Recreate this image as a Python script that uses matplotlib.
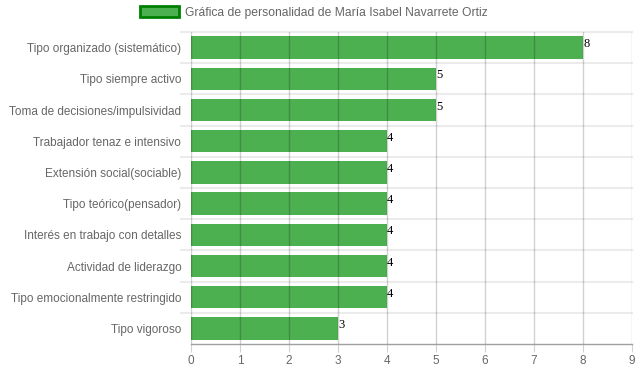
import numpy as np
import matplotlib.pyplot as plt
from matplotlib.patches import Patch

categories = ['Tipo organizado (sistemático)', 'Tipo siempre activo',
              'Toma de decisiones/impulsividad', 'Trabajador tenaz e intensivo',
              'Extensión social(sociable)', 'Tipo teórico(pensador)',
              'Interés en trabajo con detalles', 'Actividad de liderazgo',
              'Tipo emocionalmente restringido', 'Tipo vigoroso']
values = [8, 5, 5, 4, 4, 4, 4, 4, 4, 3]
legend_label = 'Gráfica de personalidad de María Isabel Navarrete Ortiz'

bar_color = '#4caf50'
text_color = '#666666'

plt.rcParams['font.family'] = ['Liberation Sans', 'DejaVu Sans']

fig = plt.figure(figsize=(6.39, 3.72), dpi=100)
ax = fig.add_axes([191/639, 1-344/372, 441/639, 312/372])

n = len(categories)
y = np.arange(n)
ax.barh(y, values, height=0.72, color=bar_color, zorder=2)

ax.set_xlim(0, 9)
ax.set_ylim(n - 0.5, -0.5)

# vertical grid, drawn over bars
for xv in range(0, 10):
    ax.axvline(xv, color=(0, 0, 0, 0.18), lw=1, zorder=3)
# horizontal grid at category boundaries
for yb in np.arange(-0.5, n - 0.5, 1.0):
    ax.axhline(yb, color='#ebebeb', lw=1.5, zorder=1, clip_on=False)
    ax.plot([-0.2, 0], [yb, yb], color='#ebebeb', lw=1.5, clip_on=False,
            zorder=1)

for s in ['top', 'right', 'left']:
    ax.spines[s].set_visible(False)
ax.spines['bottom'].set_color('#a0a0a0')
ax.spines['bottom'].set_linewidth(1)

ax.set_yticks(y)
ax.set_yticklabels(categories, fontsize=8.5, color=text_color)
ax.tick_params(axis='y', length=0, pad=7)
ax.set_xticks(range(0, 10))
ax.tick_params(axis='x', length=6, color=(0, 0, 0, 0.18), labelsize=8.5,
               labelcolor=text_color, pad=2)

for yi, v in zip(y, values):
    ax.text(v, yi - 0.3, str(v), fontsize=9, family='Liberation Serif',
            color='black', ha='left', va='top', zorder=4)

handle = Patch(facecolor=bar_color, edgecolor='#008000', linewidth=2)
fig.legend([handle], [legend_label], loc='upper left',
           bbox_to_anchor=(140/639, 1 - 6/372), frameon=False, fontsize=8.7,
           labelcolor=text_color, handlelength=3.2, handleheight=1.0,
           handletextpad=0.5, borderpad=0, borderaxespad=0)

fig.savefig('out.png', dpi=100)
